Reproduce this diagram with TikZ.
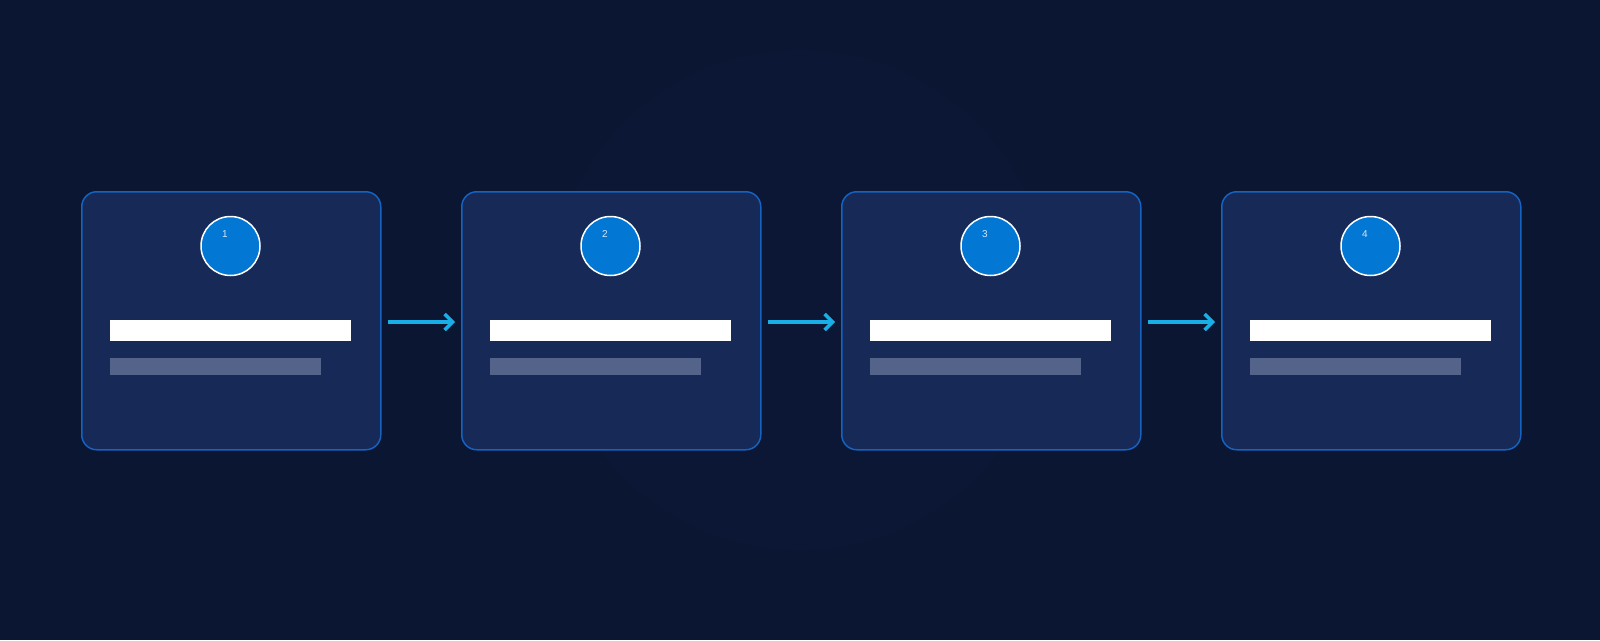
\documentclass[tikz,border=0pt]{standalone}
\usepackage{fontspec}
\setmainfont{Liberation Sans}
\usetikzlibrary{arrows.meta}
\definecolor{bg}{HTML}{0A1632}
\definecolor{bgmid}{HTML}{0B1734}
\definecolor{cardfill}{HTML}{162957}
\definecolor{cardborder}{HTML}{1562C0}
\definecolor{circfill}{HTML}{0277D4}
\definecolor{arrowc}{HTML}{1AAEE6}
\definecolor{subbar}{HTML}{536389}
\definecolor{numc}{HTML}{D6E6FA}
\tikzset{
  card/.style={draw=cardborder, line width=1.5pt, fill=cardfill, rounded corners=15pt, minimum width=299pt, minimum height=258pt, inner sep=0pt},
  badge/.style={circle, draw=white, line width=1.5pt, fill=circfill, minimum size=59pt, inner sep=0pt},
  numtext/.style={text=numc, font=\fontsize{10}{12}\selectfont, inner sep=0pt},
  titlebar/.style={fill=white, minimum width=241pt, minimum height=21pt, inner sep=0pt},
  subbarst/.style={fill=subbar, minimum width=211pt, minimum height=17pt, inner sep=0pt},
  flow/.style={draw=arrowc, line width=3.6pt, -{Straight Barb[length=8pt, width=16pt, line width=3.4pt]}},
}
\begin{document}
\begin{tikzpicture}[x=1pt, y=-1pt]
\useasboundingbox (0,0) rectangle (1600,640);
\fill[bg] (0,0) rectangle (1600,640);
\begin{scope}
\clip (0,0) rectangle (1600,640);
\fill[bgmid] (800,300) circle (250);
\end{scope}
\foreach \i in {1,2,3,4} {
  \pgfmathsetmacro{\xl}{81+380*(\i-1)}
  \node[card, anchor=north west] (card\i) at (\xl,191) {};
  \node[badge] (badge\i) at (\xl+149.5,246) {};
  \node[numtext] (num\i) at (\xl+144,234) {\i};
  \node[titlebar, anchor=north west] (title\i) at (\xl+29,320) {};
  \node[subbarst, anchor=north west] (sub\i) at (\xl+29,358) {};
}
\foreach \a/\b in {1/2,2/3,3/4} {
  \draw[flow] ([xshift=6pt,yshift=-131pt]card\a.north east) -- ([xshift=-6pt,yshift=-131pt]card\b.north west);
}
\end{tikzpicture}
\end{document}
